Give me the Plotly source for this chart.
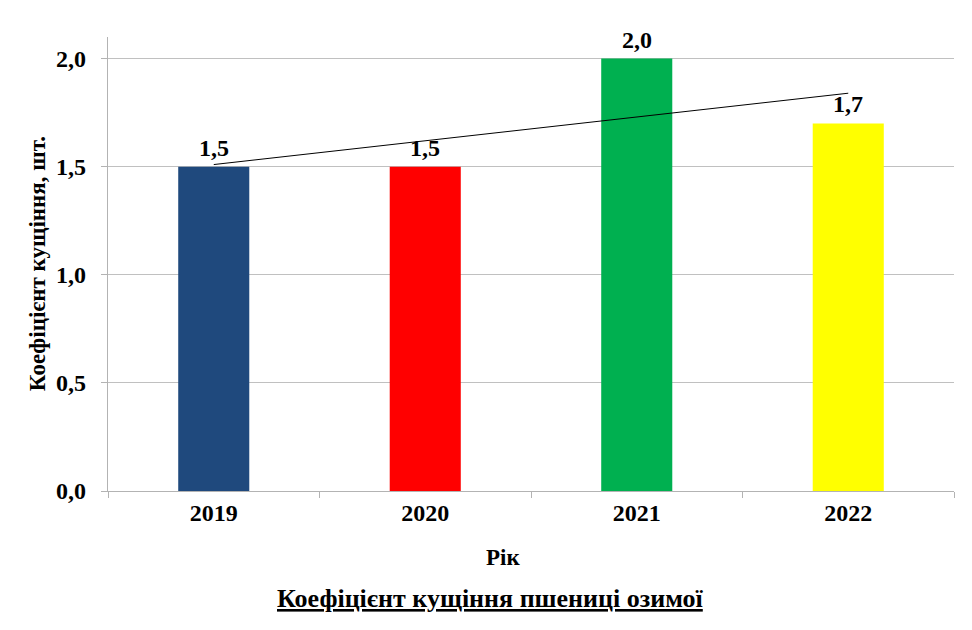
import numpy as np
import plotly.graph_objects as go

years = ["2019", "2020", "2021", "2022"]
values = [1.5, 1.5, 2.0, 1.7]
colors = ["#1F497D", "#FF0000", "#00B050", "#FFFF00"]
y_title = "Коефіцієнт кущіння, шт."
x_title = "Рік"
caption = "Коефіцієнт кущіння пшениці озимої"

FONT = "Times New Roman, Liberation Serif, serif"

# linear trend through the data
idx = np.arange(len(values))
k, b = np.polyfit(idx, values, 1)
trend = k * idx + b

fig = go.Figure()
fig.add_trace(go.Bar(x=years, y=values, marker=dict(color=colors, line=dict(width=0)),
                     showlegend=False, hoverinfo="skip"))
fig.add_trace(go.Scatter(x=years, y=trend, mode="lines",
                         line=dict(color="black", width=1), showlegend=False, hoverinfo="skip"))

for i, v in enumerate(values):
    fig.add_annotation(x=i, y=v, text=f"<b>{v:.1f}</b>".replace(".", ","), showarrow=False,
                       yanchor="bottom", yshift=4,
                       font=dict(family=FONT, size=24, color="black"))

PW, PH = 846, 453.7
fig.add_annotation(xref="paper", yref="paper", x=(37 - 108) / PW, y=(490.7 - 264) / PH,
                   text=f"<b>{y_title}</b>", textangle=-90, showarrow=False, xanchor="center", yanchor="middle",
                   font=dict(family=FONT, size=23, color="black"))
fig.add_annotation(xref="paper", yref="paper", x=(503 - 108) / PW, y=-(557 - 490.7) / PH,
                   text=f"<b>{x_title}</b>", showarrow=False, xanchor="center", yanchor="middle",
                   font=dict(family=FONT, size=23, color="black"))
fig.add_annotation(xref="paper", yref="paper", x=(490 - 108) / PW, y=-(598 - 490.7) / PH,
                   text=f"<b><u>{caption}</u></b>", showarrow=False, xanchor="center", yanchor="middle",
                   font=dict(family=FONT, size=26, color="black"))

fig.update_layout(
    width=972, height=630,
    margin=dict(l=108, r=18, t=37, b=139.3),
    paper_bgcolor="white", plot_bgcolor="white",
    bargap=0.664,
    separators=", ",
    font=dict(family=FONT, color="black"),
)
fig.update_xaxes(type="category", range=[-0.5, len(years) - 0.5], showline=True, linecolor="#B3B3B3",
                 linewidth=1.3, ticks="outside", tickson="boundaries", ticklen=6, tickcolor="#B3B3B3",
                 showgrid=False, tickfont=dict(family=FONT, size=24, color="black", weight="bold"))
fig.update_yaxes(range=[0, 2.1], dtick=0.5, tickformat=".1f", showline=True, linecolor="#B3B3B3", linewidth=1.3,
                 ticks="outside", ticklen=6, tickcolor="#B3B3B3", showgrid=True, gridcolor="#C0C0C0", gridwidth=1.3,
                 zeroline=False, ticklabelstandoff=10,
                 tickfont=dict(family=FONT, size=24, color="black", weight="bold"))

fig.write_html("out.html")
